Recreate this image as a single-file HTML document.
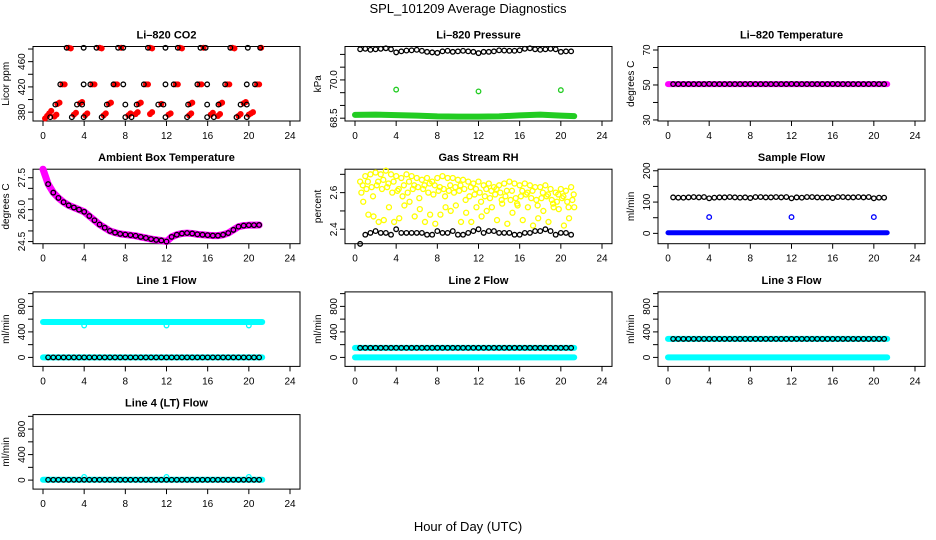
<!DOCTYPE html>
<html><head><meta charset="utf-8">
<style>
html,body{margin:0;padding:0;background:#fff;}
svg{display:block;font-family:"Liberation Sans",Helvetica,Arial,sans-serif;}
</style></head>
<body>
<svg id="chart" width="936" height="540" viewBox="0 0 936 540" xmlns="http://www.w3.org/2000/svg">
<text x="468" y="13" text-anchor="middle" font-size="13">SPL_101209  Average Diagnostics</text>
<text x="468" y="531" text-anchor="middle" font-size="13">Hour of Day (UTC)</text>
</svg>
<script>
const hrs = [0.5,1,1.5,2,2.5,3,3.5,4,4.5,5,5.5,6,6.5,7,7.5,8,8.5,9,9.5,10,10.5,11,11.5,12,12.5,13,13.5,14,14.5,15,15.5,16,16.5,17,17.5,18,18.5,19,19.5,20,20.5,21];
const xTicks = [0,4,8,12,16,20,24];

// CO2
const co2BlackT = [2.3,3.95,5.2,7.3,7.8,10.2,11.9,13.1,15.3,15.8,18.2,19.9,21.1, 1.68,3.95,4.6,6.85,7.8,9.8,11.9,12.7,15,15.95,17.7,19.8,20.6, 1.2,3.3,3.8,6.2,8.0,9.1,11.2,11.7,14.1,15.95,17.05,19.2,19.8, 0.7,2.8,3.95,5.7,8.0,8.6,11.9,14.0,15.95,16.6,18.8,19.8];
const co2BlackV = [482,482,482,482,482,482,482,482,482,482,482,482,482, 424,424,424,424,424,424,424,424,424,424,424,424,424, 392,392,392,392,392,392,392,392,392,392,392,392,392, 372,372,372,372,372,372,372,372,372,372,372,372];
const co2RedT = [2.5,2.7,5.5,5.7,7.6,10.4,10.6,13.3,13.5,15.6,18.4,18.6,21.2, 1.9,2.1,4.8,5.0,7.0,7.2,10.0,10.2,12.9,13.1,15.2,15.4,17.9,18.1,20.8,21.0, 1.4,1.6,3.6,3.8,6.4,6.6,9.3,9.5,11.5,14.3,14.5,17.2,17.4,19.5,19.7, 0.2,0.4,0.6,0.8,1.1,1.3,3.0,3.2,4.1,4.3,5.9,6.1,8.3,8.5,9.0,9.2,10.4,10.6,12.2,12.4,14.2,14.4,16.3,16.5,17.0,17.2,19.0,19.2,20.0,20.2,20.4];
const co2RedV = [482,481,482,481,482,482,481,482,481,482,482,481,482, 424,424,424,424,424,424,424,424,424,424,424,424,424,424,424,424, 393,395,394,396,393,395,393,395,393,393,395,393,395,394,396, 370,374,378,382,373,376,376,379,375,378,375,378,375,378,377,380,377,380,376,378,375,378,376,379,374,377,374,377,376,378,380];
// Pressure
const presBlackV = [71.2,71.22,71.18,71.2,71.22,71.24,71.2,71.08,71.12,71.15,71.16,71.18,71.14,71.1,71.08,71.06,71.12,71.14,71.1,71.12,71.14,71.12,71.1,71.05,71.1,71.1,71.12,71.16,71.15,71.14,71.14,71.16,71.22,71.24,71.2,71.18,71.2,71.22,71.2,71.1,71.12,71.12];
const presGreenT = [0,2,4,6,8,10,12,14,16,18,20,21.3];
const presGreenV = [68.63,68.64,68.62,68.6,68.57,68.56,68.56,68.57,68.61,68.64,68.6,68.58];
const presOutT = [4,12,20];
const presOutV = [69.62,69.55,69.6];
// Li-820 temperature
const ltBlackV = [50.5,50.5,50.5,50.5,50.5,50.5,50.5,50.6,50.5,50.5,50.5,50.5,50.5,50.5,50.5,50.6,50.5,50.5,50.5,50.5,50.5,50.5,50.5,50.6,50.5,50.5,50.5,50.5,50.5,50.5,50.5,50.6,50.5,50.5,50.5,50.5,50.5,50.5,50.5,50.6,50.5,50.5];
const ltMagT = [0,21.3];
const ltMagV = [50.5,50.5];
// Ambient box temperature
const ambV = [27.2,26.8,26.55,26.35,26.2,26.1,26.0,25.9,25.7,25.5,25.3,25.15,25.0,24.92,24.86,24.83,24.8,24.77,24.72,24.67,24.62,24.58,24.55,24.5,24.72,24.82,24.88,24.9,24.88,24.84,24.82,24.8,24.78,24.78,24.82,24.9,25.05,25.2,25.25,25.27,25.27,25.28];
const ambHeadT = [0,0.25];
const ambHeadV = [27.9,27.55];
// Gas stream RH
const rhBlackV = [2.32,2.37,2.38,2.39,2.38,2.38,2.37,2.40,2.38,2.38,2.38,2.38,2.38,2.37,2.37,2.39,2.38,2.38,2.39,2.37,2.37,2.38,2.39,2.40,2.38,2.39,2.39,2.38,2.38,2.38,2.37,2.37,2.38,2.38,2.39,2.39,2.40,2.39,2.37,2.38,2.38,2.37];
const rhHiV = [2.66,2.69,2.70,2.71,2.70,2.72,2.70,2.69,2.68,2.70,2.69,2.68,2.67,2.68,2.66,2.68,2.69,2.68,2.68,2.67,2.67,2.66,2.65,2.66,2.64,2.65,2.63,2.64,2.65,2.66,2.65,2.64,2.65,2.64,2.63,2.63,2.64,2.62,2.60,2.62,2.61,2.63];
const rhUpV = [2.64,2.66,2.58,2.66,2.67,2.65,2.66,2.62,2.64,2.66,2.64,2.57,2.64,2.65,2.64,2.63,2.58,2.64,2.63,2.64,2.56,2.63,2.62,2.55,2.62,2.61,2.62,2.56,2.61,2.61,2.54,2.61,2.60,2.61,2.53,2.60,2.59,2.54,2.59,2.58,2.52,2.59];
const rhMidV = [2.60,2.62,2.63,2.64,2.62,2.63,2.60,2.61,2.58,2.60,2.62,2.63,2.62,2.60,2.59,2.61,2.62,2.61,2.60,2.61,2.62,2.58,2.59,2.60,2.58,2.57,2.59,2.60,2.58,2.56,2.57,2.58,2.59,2.57,2.56,2.57,2.58,2.56,2.55,2.57,2.55,2.56];
const rhLoV = [2.55,2.48,2.47,2.44,2.45,2.52,2.44,2.46,2.53,2.55,2.47,2.51,2.44,2.48,2.43,2.48,2.52,2.50,2.53,2.44,2.49,2.44,2.52,2.47,2.50,2.52,2.45,2.54,2.43,2.49,2.53,2.45,2.52,2.42,2.46,2.50,2.44,2.52,2.51,2.42,2.46,2.52];
// Sample flow
const sfBlackV = [115,114,114,115,116,115,116,112,114,115,115,116,115,114,115,113,116,116,115,115,116,115,116,112,115,114,116,116,115,114,115,113,116,116,115,115,116,115,116,112,114,114];
const sfBlueT = [0,21.3];
const sfBlueV = [2,2];
const sfOutT = [4,12,20];
const sfOutV = [52,52,52];
// Line flows
const l1CyanT = [0,21.3];
const l1CyanV = [555,555];
const l1BlackV = [0,0,0,0,0,0,0,0,0,0,0,0,0,0,0,0,0,0,0,0,0,0,0,0,0,0,0,0,0,0,0,0,0,0,0,0,0,0,0,0,0,0];
const l1OutT = [4,12,20];
const l1OutV = [500,500,500];
const l2CyanV = [150,150];
const l2BlackV = [150,150,150,150,150,150,150,150,150,150,150,150,150,150,150,150,150,150,150,150,150,150,150,150,150,150,150,150,150,150,150,150,150,150,150,150,150,150,150,150,150,150];
const l3CyanV = [290,290];
const l3BlackV = [290,290,290,290,290,290,290,290,290,290,290,290,290,290,290,290,290,290,290,290,290,290,290,290,290,290,290,290,290,290,290,290,290,290,290,290,290,290,290,290,290,290];
const zeroV = [0,0];
const l4CyanV = [5,5];
const l4BlackV = [5,5,5,5,5,5,5,5,5,5,5,5,5,5,5,5,5,5,5,5,5,5,5,5,5,5,5,5,5,5,5,5,5,5,5,5,5,5,5,5,5,5];
const l4OutV = [50,50,50];

const NS = "http://www.w3.org/2000/svg";
const svg = document.getElementById('chart');
const colL = [33,345,658], boxW = 267, boxH = 74.5;
function mk(tag, parent){ const e = document.createElementNS(NS, tag); parent.appendChild(e); return e; }

function panel(c, r, key, title, ylab, ylim, ticks, labs){
  const L = colL[c], T = 46.5 + 122.7*r, B = T + boxH;
  const g = mk('g', svg);
  
  
  const x = t => L + 10 + t*(247/24);
  const y = v => B - (v - ylim[0])/(ylim[1]-ylim[0])*boxH;
  const box = mk('rect', g);
  box.setAttribute('x', L); box.setAttribute('y', T); box.setAttribute('width', boxW); box.setAttribute('height', boxH);
  box.setAttribute('fill', 'none'); box.setAttribute('stroke', '#000'); box.setAttribute('stroke-width', '1');
  
  
  const tt = mk('text', g);
  tt.setAttribute('x', L + boxW/2); tt.setAttribute('y', T - 8); tt.setAttribute('text-anchor', 'middle');
  tt.setAttribute('font-size', '11'); tt.setAttribute('font-weight', 'bold');
  tt.textContent = title;
  
  
  const yl = mk('text', g);
  yl.setAttribute('transform', `translate(${L-24},${T+boxH/2}) rotate(-90)`);
  yl.setAttribute('text-anchor', 'middle'); yl.setAttribute('font-size', '10');
  yl.textContent = ylab;
  
  
  xTicks.forEach(t => {
    const ln = mk('line', g);
    ln.setAttribute('x1', x(t)); ln.setAttribute('x2', x(t)); ln.setAttribute('y1', B); ln.setAttribute('y2', B+5); ln.setAttribute('stroke', '#000');
    
    
    const lb = mk('text', g);
    lb.setAttribute('x', x(t)); lb.setAttribute('y', B+18); lb.setAttribute('text-anchor', 'middle'); lb.setAttribute('font-size', '10');
    lb.textContent = t;
    
    
  });
  ticks.forEach(v => {
    const ln = mk('line', g);
    ln.setAttribute('x1', L-5); ln.setAttribute('x2', L); ln.setAttribute('y1', y(v)); ln.setAttribute('y2', y(v)); ln.setAttribute('stroke', '#000');
    
    
  });
  labs.forEach(s => {
    const lb = mk('text', g);
    lb.setAttribute('transform', `translate(${L-8},${y(parseFloat(s))}) rotate(-90)`);
    lb.setAttribute('text-anchor', 'middle'); lb.setAttribute('font-size', '10');
    lb.textContent = s;
    
    
  });
  return {g, x, y};
}

function points(p, ts, vs, color, name, fill, r){
  ts.forEach((t, i) => {
    const c = mk('circle', p.g);
    c.setAttribute('cx', p.x(t)); c.setAttribute('cy', p.y(vs[i])); c.setAttribute('r', r || 2.3);
    c.setAttribute('fill', fill ? color : 'none'); c.setAttribute('stroke', color); c.setAttribute('stroke-width', '1.3');
    
    
  });
}
function ribbon(p, ts, vs, color, name, w){
  const pl = mk('polyline', p.g);
  pl.setAttribute('points', ts.map((t,i) => p.x(t) + ',' + p.y(vs[i])).join(' '));
  pl.setAttribute('fill', 'none'); pl.setAttribute('stroke', color); pl.setAttribute('stroke-width', w || 5);
  pl.setAttribute('stroke-linecap', 'round'); pl.setAttribute('stroke-linejoin', 'round');
  
  
}

// Row 1
let p = panel(0,0,'co2','Li\u2013820 CO2','Licor ppm',[366,484],[380,400,420,440,460,480],['380','420','460']);
points(p, co2RedT, co2RedV, '#ff0000', 'co2-red-point', true, 2.4);
points(p, co2BlackT, co2BlackV, '#000', 'co2-black-point');

p = panel(1,0,'pressure','Li\u2013820 Pressure','kPa',[68.39,71.31],[68.5,69,69.5,70,70.5,71],['68.5','70.0']);
ribbon(p, presGreenT, presGreenV, '#22cc22', 'pressure-green-series', 6);
points(p, presOutT, presOutV, '#22cc22', 'pressure-green-outlier');
points(p, hrs, presBlackV, '#000', 'pressure-black-point');

p = panel(2,0,'li820-temp','Li\u2013820 Temperature','degrees C',[29.4,72],[30,40,50,60,70],['30','50','70']);
ribbon(p, ltMagT, ltMagV, '#ff00ff', 'li820-temp-magenta-series', 6);
points(p, hrs, ltBlackV, '#000', 'li820-temp-black-point');

// Row 2
p = panel(0,1,'ambient-temp','Ambient Box Temperature','degrees C',[24.4,27.9],[24.5,25,25.5,26,26.5,27,27.5],['24.5','26.0','27.5']);
ribbon(p, ambHeadT.concat(hrs), ambHeadV.concat(ambV), '#ff00ff', 'ambient-temp-magenta-series', 7);
points(p, hrs, ambV, '#000', 'ambient-temp-black-point');

p = panel(1,1,'gas-rh','Gas Stream RH','percent',[2.321,2.728],[2.4,2.5,2.6,2.7],['2.4','2.6']);
points(p, hrs, rhHiV, '#ffff00', 'rh-yellow-point', false, 2.5);
points(p, hrs.map(t => t+0.25), rhUpV, '#ffff00', 'rh-yellow-point', false, 2.5);
points(p, hrs.map(t => t+0.12), rhMidV, '#ffff00', 'rh-yellow-point', false, 2.5);
points(p, hrs.map(t => t+0.3), rhLoV, '#ffff00', 'rh-yellow-point', false, 2.5);
points(p, hrs, rhBlackV, '#000', 'rh-black-point');

p = panel(2,1,'sample-flow','Sample Flow','ml/min',[-33,205],[0,50,100,150,200],['0','100','200']);
ribbon(p, sfBlueT, sfBlueV, '#0000ff', 'sample-flow-blue-series', 5);
points(p, sfOutT, sfOutV, '#0000ff', 'sample-flow-blue-outlier');
points(p, hrs, sfBlackV, '#000', 'sample-flow-black-point');

// Row 3/4
const fy = [-141,1027], ft = [0,200,400,600,800,1000], fl = ['0','400','800'];
p = panel(0,2,'line1-flow','Line 1 Flow','ml/min',fy,ft,fl);
ribbon(p, l1CyanT, l1CyanV, '#00ffff', 'line1-cyan-series', 6);
ribbon(p, l1CyanT, zeroV, '#00ffff', 'line1-cyan-zero-series', 6);
points(p, l1OutT, l1OutV, '#00ffff', 'line1-cyan-outlier');
points(p, hrs, l1BlackV, '#000', 'line1-black-point');

p = panel(1,2,'line2-flow','Line 2 Flow','ml/min',fy,ft,fl);
ribbon(p, l1CyanT, l2CyanV, '#00ffff', 'line2-cyan-series', 6);
ribbon(p, l1CyanT, zeroV, '#00ffff', 'line2-cyan-zero-series', 6);
points(p, hrs, l2BlackV, '#000', 'line2-black-point');

p = panel(2,2,'line3-flow','Line 3 Flow','ml/min',fy,ft,fl);
ribbon(p, l1CyanT, l3CyanV, '#00ffff', 'line3-cyan-series', 6);
ribbon(p, l1CyanT, zeroV, '#00ffff', 'line3-cyan-zero-series', 6);
points(p, hrs, l3BlackV, '#000', 'line3-black-point');

p = panel(0,3,'line4-flow','Line 4 (LT) Flow','ml/min',fy,ft,fl);
ribbon(p, l1CyanT, l4CyanV, '#00ffff', 'line4-cyan-series', 6);
points(p, l1OutT, l4OutV, '#00ffff', 'line4-cyan-outlier');
points(p, hrs, l4BlackV, '#000', 'line4-black-point');
</script>
</body></html>
